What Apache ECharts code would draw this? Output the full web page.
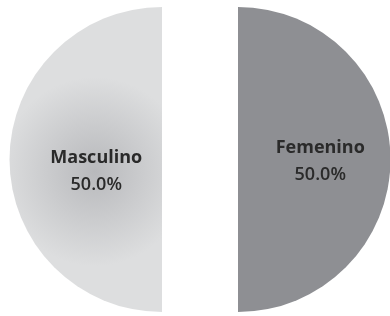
<!DOCTYPE html>
<html><head><meta charset="utf-8">
<script src="https://cdn.jsdelivr.net/npm/echarts@6/dist/echarts.min.js"></script>
<style>html,body{margin:0;padding:0;background:#fff}#c{width:390px;height:316px}</style>
</head><body><div id="c"></div>
<script>
const categories = ['Femenino', 'Masculino'];
const values = [50.0, 50.0];
const percentLabels = ['50.0%', '50.0%'];

const chart = echarts.init(document.getElementById('c'), null, {renderer: 'canvas'});
const styles = [
  { color: '#8e8f93' },
  { color: new echarts.graphic.RadialGradient(0.56, 0.54, 0.62, [
      { offset: 0, color: '#b8b9bc' },
      { offset: 1, color: '#dddedf' }
    ]) }
];
const pads = [[4, 0, 0, 6], [23, 0, 0, 27]];
chart.setOption({
  animation: false,
  series: [{
    type: 'pie',
    center: [200, 159.5],
    radius: [0, 152.5],
    startAngle: 90,
    clockwise: true,
    selectedMode: 'multiple',
    selectedOffset: 38,
    silent: true,
    labelLine: { show: false },
    data: categories.map((c, i) => ({
      name: c,
      value: values[i],
      selected: true,
      itemStyle: styles[i],
      label: {
        show: true,
        position: 'inside',
        padding: pads[i],
        formatter: '{n|' + c + '}\n{p|' + percentLabels[i] + '}',
        rich: {
          n: { fontFamily: 'Open Sans', fontWeight: 'bold', fontSize: 18, color: '#2a2a2a', lineHeight: 27, align: 'center' },
          p: { fontFamily: 'Open Sans', fontWeight: 600, fontSize: 18, color: '#2a2a2a', lineHeight: 27, align: 'center' }
        }
      }
    }))
  }]
});
</script></body></html>
